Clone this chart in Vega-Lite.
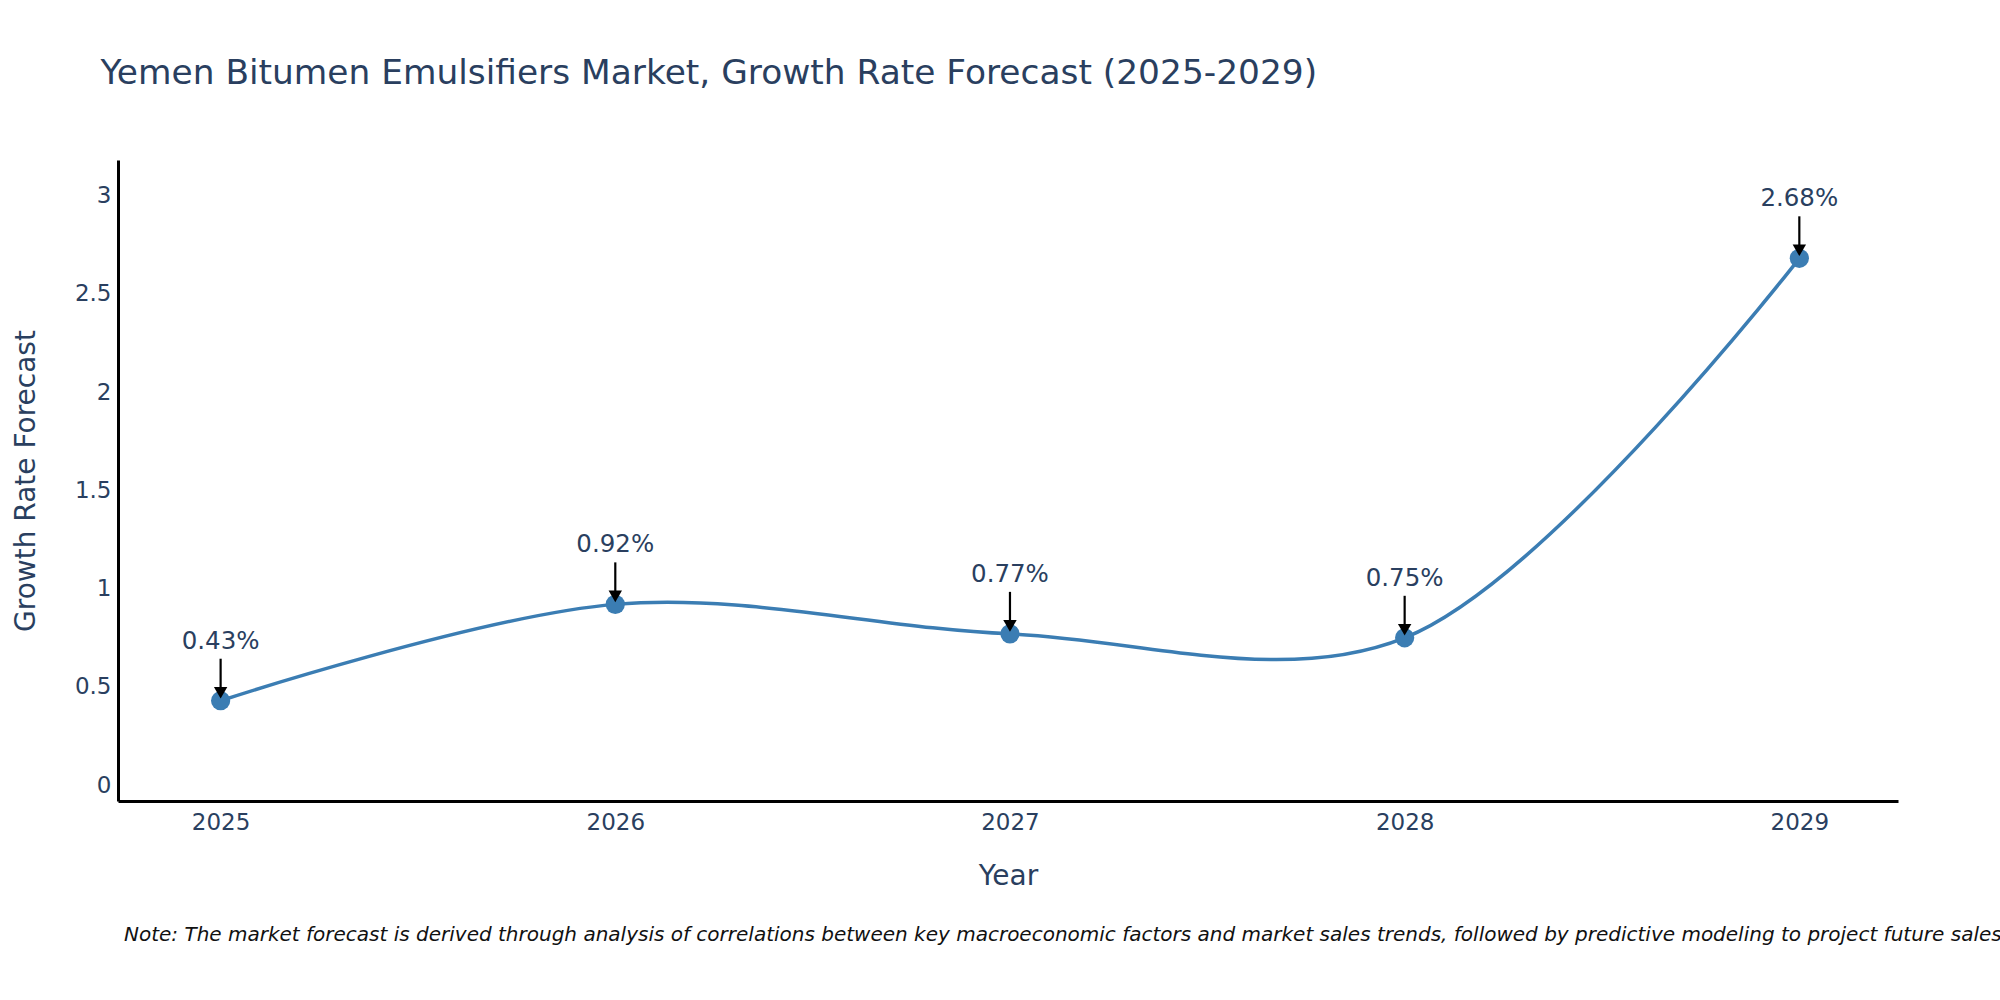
{
  "$schema": "https://vega.github.io/schema/vega-lite/v6.json",
  "background": "white",
  "padding": {"left": 12, "top": 56, "right": 0, "bottom": 0},
  "title": {
    "text": "Yemen Bitumen Emulsifiers Market, Growth Rate Forecast (2025-2029)",
    "anchor": "start",
    "font": "DejaVu Sans",
    "fontSize": 34.4,
    "fontWeight": "normal",
    "color": "#2a3f5f",
    "dx": 88,
    "offset": 68.6
  },
  "vconcat": [
    {
      "width": 1780,
      "height": 641,
      "title": {
        "text": "Note: The market forecast is derived through analysis of correlations between key macroeconomic factors and market sales trends, followed by predictive modeling to project future sales.",
        "orient": "bottom",
        "anchor": "start",
        "frame": "group",
        "font": "DejaVu Sans",
        "fontSize": 20,
        "fontStyle": "italic",
        "fontWeight": "normal",
        "color": "#111111",
        "dx": 6,
        "offset": 34.5
      },
      "data": {
        "values": [
          {"year": 2025, "value": 0.43, "label": "0.43%"},
          {"year": 2026, "value": 0.92, "label": "0.92%"},
          {"year": 2027, "value": 0.77, "label": "0.77%"},
          {"year": 2028, "value": 0.75, "label": "0.75%"},
          {"year": 2029, "value": 2.68, "label": "2.68%"}
        ]
      },
      "encoding": {
        "x": {
          "field": "year",
          "type": "quantitative",
          "scale": {"domain": [2024.74, 2029.25], "nice": false, "zero": false},
          "axis": {"values": [2025, 2026, 2027, 2028, 2029], "format": "d", "title": "Year", "titlePadding": 28, "labelPadding": 10}
        },
        "y": {
          "field": "value",
          "type": "quantitative",
          "scale": {"domain": [-0.08, 3.18], "nice": false, "zero": false},
          "axis": {"values": [0, 0.5, 1, 1.5, 2, 2.5, 3], "format": "~g", "title": "Growth Rate Forecast", "titlePadding": 34, "labelPadding": 7}
        }
      },
      "layer": [
        {
          "mark": {"type": "line", "interpolate": "catmull-rom", "color": "#3b7db3", "strokeWidth": 3.5}
        },
        {
          "mark": {"type": "point", "filled": true, "opacity": 1, "color": "#3b7db3", "size": 370}
        },
        {
          "mark": {"type": "rule", "color": "black", "strokeWidth": 2.2, "yOffset": -42, "y2Offset": -10},
          "encoding": {"y2": {"field": "value"}}
        },
        {
          "mark": {"type": "point", "shape": "triangle-down", "filled": true, "opacity": 1, "color": "black", "size": 180, "yOffset": -8}
        },
        {
          "mark": {"type": "text", "font": "DejaVu Sans", "fontSize": 24.5, "color": "#2a3f5f", "baseline": "middle", "dy": -59},
          "encoding": {"text": {"field": "label"}}
        }
      ]
    }
  ],
  "config": {
    "view": {"stroke": null},
    "axis": {
      "grid": false,
      "ticks": false,
      "domainColor": "black",
      "domainWidth": 3,
      "labelFont": "DejaVu Sans",
      "labelFontSize": 23,
      "labelColor": "#2a3f5f",
      "titleFont": "DejaVu Sans",
      "titleFontSize": 28,
      "titleFontWeight": "normal",
      "titleColor": "#2a3f5f"
    }
  }
}
